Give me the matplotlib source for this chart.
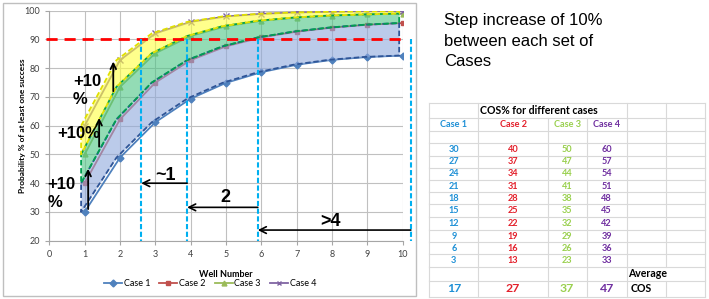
import numpy as np
import matplotlib
matplotlib.use("Agg")
import matplotlib.pyplot as plt
from matplotlib.lines import Line2D
from matplotlib.patches import Rectangle

plt.rcParams['font.family'] = ['Lato', 'DejaVu Sans']

# chart data (probability of at least one success, %)
wells = [1, 2, 3, 4, 5, 6, 7, 8, 9, 10]
case1 = [30, 48.9, 61.2, 69.4, 74.9, 78.6, 81.2, 82.9, 83.9, 84.4]
case2 = [40, 62.2, 75.0, 82.8, 87.6, 90.7, 92.7, 94.1, 95.1, 95.7]
case3 = [50, 73.5, 85.2, 91.2, 94.6, 96.5, 97.6, 98.3, 98.7, 99.0]
case4 = [60, 82.8, 92.1, 96.1, 98.0, 98.9, 99.4, 99.6, 99.8, 99.8]
case_names = ['Case 1', 'Case 2', 'Case 3', 'Case 4']

# wells needed to pass 90% for each case
cross_x = [2.6, 3.9, 5.9, 10.23]
arrow_labels = ['~1', '2', '>4']
target = 90

# table data (COS% per well)
cos1 = [30, 27, 24, 21, 18, 15, 12, 9, 6, 3]
cos2 = [40, 37, 34, 31, 28, 25, 22, 19, 16, 13]
cos3 = [50, 47, 44, 41, 38, 35, 32, 29, 26, 23]
cos4 = [60, 57, 54, 51, 48, 45, 42, 39, 36, 33]
avg_cos = [17, 27, 37, 47]

line_cols = ['#4F81BD', '#C0504D', '#9BBB59', '#8064A2']
markers = ['D', 's', '^', 'x']
tab_cols = ['#1E90D6', '#E3202B', '#9AD04F', '#7030A0']

fig = plt.figure(figsize=(7.09, 2.99), dpi=100)

# overlay in pixel coords for frame + table
ov = fig.add_axes([0, 0, 1, 1])
ov.set_xlim(0, 709)
ov.set_ylim(299, 0)
ov.axis('off')
ov.add_patch(Rectangle((3, 3), 413, 293, fill=False, ec='#BFBFBF', lw=1))

ax = fig.add_axes([49.3 / 709, 1 - 240.7 / 299, 353.4 / 709, 230 / 299])
x = np.array(wells)
for ys, c, m, n in zip([case1, case2, case3, case4], line_cols, markers, case_names):
    ax.plot(x, ys, color=c, lw=1.3, marker=m, ms=3.5 if m != 'x' else 4,
            mew=1, label=n, zorder=3)

# shaded bands (slightly offset like the drawn shapes)
xs = x - 0.1
bands = [(case1, case2, '#8FA9DC', '#2F5597'),
         (case2, case3, '#4CC585', '#00A050'),
         (case3, case4, '#FFFF40', '#E0E000')]
for lo, hi, fc, ec in bands:
    ax.fill_between(xs, lo, hi, color=fc, alpha=0.6, lw=0, zorder=4)
    px = np.concatenate([xs, xs[::-1], xs[:1]])
    py = np.concatenate([hi, lo[::-1], hi[:1]])
    ax.plot(px, py, color=ec, lw=1.3, ls=(0, (3, 1.5)), zorder=5)

ax.set_xlim(0, 10)
ax.set_ylim(20, 100)
ax.set_xticks(range(0, 11))
ax.set_yticks(range(20, 101, 10))
ax.grid(True, color='#C0C0C0', lw=0.8)
ax.set_axisbelow(True)
for s in ['top', 'right']:
    ax.spines[s].set_visible(False)
for s in ['left', 'bottom']:
    ax.spines[s].set_color('#A6A6A6')
ax.tick_params(labelsize=6.5, colors='#A6A6A6', labelcolor='#404040', length=3, width=0.8)
ax.set_xlabel('Well Number', fontsize=6.5, fontweight='bold', labelpad=8)
ax.set_ylabel('Probability % of at least one success', fontsize=6, fontweight='bold', labelpad=-1)

# 90% line and crossing markers
ax.plot([-0.1, 10], [target, target], color='red', lw=2, ls=(0, (4, 2.5)), zorder=6, clip_on=False)
for cx in cross_x:
    ax.plot([cx, cx], [target, 20], color='#00B0F0', lw=1.5, ls=(0, (2.5, 1.2)), zorder=6, clip_on=False)

arrow_y = [40, 31.6, 23.7]
text_pos = [(3.3, 42.6), (4.97, 35), (7.95, 26.7)]
for i, lab in enumerate(arrow_labels):
    ax.annotate('', xy=(cross_x[i], arrow_y[i]), xytext=(cross_x[i + 1], arrow_y[i]),
                arrowprops=dict(arrowstyle='->', lw=1.2, color='black',
                                shrinkA=0, shrinkB=0, mutation_scale=12),
                zorder=7, annotation_clip=False)
    ax.text(text_pos[i][0], text_pos[i][1], lab, fontsize=13, fontweight='bold',
            ha='center', va='center', zorder=7, family=['Liberation Sans', 'DejaVu Sans'])

# +10% labels with upward arrows
plus = [('+10\n%', -0.05, 36.5), ('+10%', 0.22, 57.2), ('+10\n%', 0.67, 72.3)]
for t, tx, ty in plus:
    ax.text(tx, ty, t, fontsize=12, fontweight='bold', ha='left', va='center',
            linespacing=1.25, zorder=8, family=['Liberation Sans', 'DejaVu Sans'], clip_on=False)
up = [(1.1, 31, 45), (1.41, 52.7, 62.7), (1.81, 72, 82.3)]
for ux, y0, y1 in up:
    ax.annotate('', xy=(ux, y1), xytext=(ux, y0),
                arrowprops=dict(arrowstyle='->', lw=1.3, color='black',
                                shrinkA=0, shrinkB=0, mutation_scale=10), zorder=8)

handles = [Line2D([], [], color=c, marker=m, ms=3.5, lw=1.3) for c, m in zip(line_cols, markers)]
fig.legend(handles, case_names, loc='center', bbox_to_anchor=(210 / 709, 1 - 284 / 299),
           ncol=4, frameon=False, fontsize=6.5, handlelength=2.0, columnspacing=1.0,
           handletextpad=0.2, borderpad=0)

# right side note
ov.text(444, 41, 'Step increase of 10%\nbetween each set of\nCases', fontsize=12,
        ha='left', va='center', linespacing=1.42, family=['Liberation Sans', 'DejaVu Sans'])

# table
col_edges = [429.3, 478.3, 547.7, 586.7, 626.7, 666, 705]
row_edges = [103.3, 118.3, 131, 143.3, 155.7, 167.7, 180, 192.3, 204.3, 217.3,
             230, 242.3, 254.3, 266.7, 281, 296.7]
gcol = '#D9D9D9'
for r in row_edges:
    ov.plot([col_edges[0], col_edges[-1]], [r, r], color=gcol, lw=0.8)
for ci, cxe in enumerate(col_edges):
    for ri in range(len(row_edges) - 1):
        if ri == 0 and ci in (2, 3):
            continue
        if ri == 13 and ci == 5:
            continue
        ov.plot([cxe, cxe], [row_edges[ri], row_edges[ri + 1]], color=gcol, lw=0.8)

mid = lambda a, b: (a + b) / 2
ov.text(480, mid(row_edges[0], row_edges[1]), 'COS% for different cases', fontsize=7.6,
        fontweight='bold', ha='left', va='center')
for k in range(4):
    cx = mid(col_edges[k], col_edges[k + 1])
    ov.text(cx, mid(row_edges[1], row_edges[2]), case_names[k], fontsize=6.6,
            fontweight='bold', color=tab_cols[k], ha='center', va='center')
    for j, v in enumerate([cos1, cos2, cos3, cos4][k]):
        ov.text(cx, mid(row_edges[3 + j], row_edges[4 + j]), str(v), fontsize=6.6,
                fontweight='bold', color=tab_cols[k], ha='center', va='center')
    ov.text(cx, mid(row_edges[14], row_edges[15]), str(avg_cos[k]), fontsize=8.8,
            fontweight='bold', color=tab_cols[k], ha='center', va='center')
ov.text(628.3, mid(row_edges[13], row_edges[14]), 'Average', fontsize=7.6,
        fontweight='bold', ha='left', va='center')
ov.text(630.7, mid(row_edges[14], row_edges[15]), 'COS', fontsize=7.6,
        fontweight='bold', ha='left', va='center')

fig.savefig('out.png', dpi=100)
